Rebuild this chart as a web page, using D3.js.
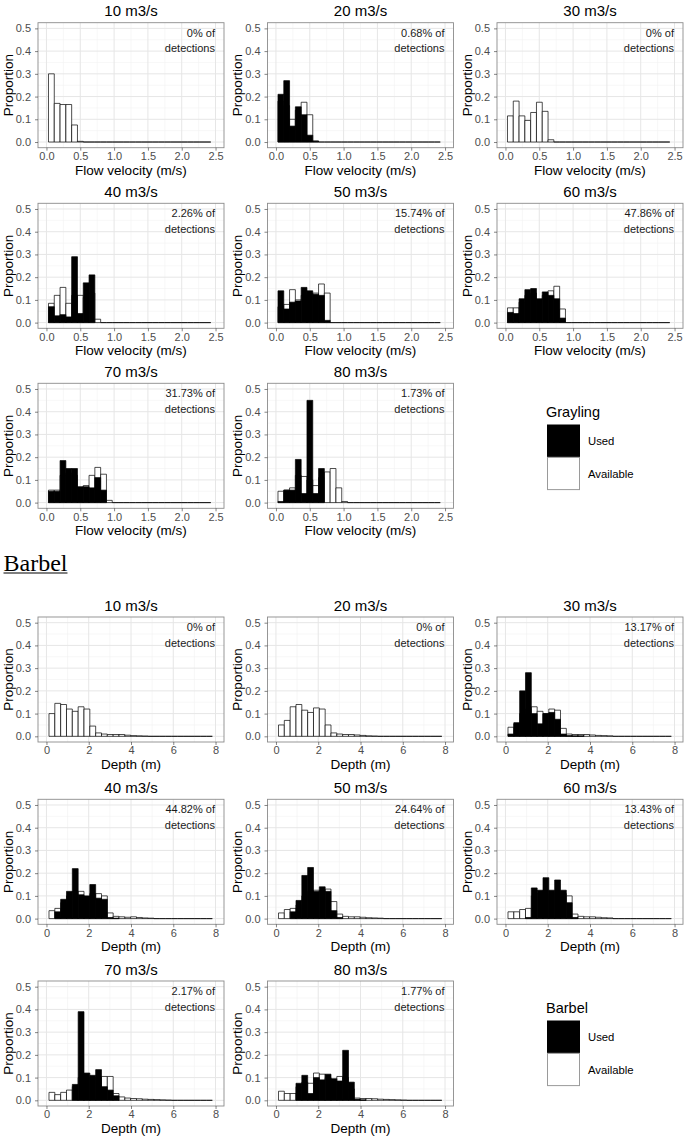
<!DOCTYPE html>
<html><head><meta charset="utf-8">
<script src="https://cdn.jsdelivr.net/npm/d3@7"></script>
<style>
body{margin:0;background:#fff}
svg{display:block}
</style>
</head><body>
<svg id="c" width="685" height="1137"></svg>
<script>
// ---------------- data ----------------
const flowLabels = ["10 m3/s","20 m3/s","30 m3/s","40 m3/s","50 m3/s","60 m3/s","70 m3/s","80 m3/s"];
const graylingPct = ["0%","0.68%","0%","2.26%","15.74%","47.86%","31.73%","1.73%"];
const barbelPct = ["0%","0%","13.17%","44.82%","24.64%","13.43%","2.17%","1.77%"];
const velocityTicks = [0,0.5,1,1.5,2,2.5];
const depthTicks = [0,2,4,6,8];
const proportionTicks = [0,0.1,0.2,0.3,0.4,0.5];
const legendLabels = ["Used","Available"];
const nBins = 28;
const velocityBinStart = 0.03, velocityBinWidth = 0.0857;
const depthBinStart = 0.12, depthBinWidth = 0.276;

// Grayling: proportion per flow-velocity bin
const graylingUsed = [
  [0,0,0,0,0],
  [0.21,0.27,0.07,0.155,0.12,0.03,0.003],
  [0,0,0,0,0],
  [0.07,0.03,0.035,0.025,0.29,0.04,0.175,0.21,0],
  [0.14,0.06,0.09,0.095,0.155,0.14,0.125,0.12,0.01],
  [0.045,0.04,0.105,0.145,0.15,0.105,0.135,0.12,0.105,0.02],
  [0.05,0.05,0.185,0.15,0.15,0.07,0.07,0.065,0.11,0.055,0],
  [0.005,0.055,0.055,0.19,0.04,0.45,0.04,0.15]
];
const graylingAvail = [
  [0.30,0.17,0.165,0.165,0.075,0.003],
  [0.18,0.16,0.10,0.14,0.175,0.12,0.005],
  [0.115,0.18,0.115,0.095,0.13,0.175,0.135,0.01],
  [0.085,0.12,0.155,0.085,0.12,0.12,0.11,0.13,0.015],
  [0.07,0.08,0.145,0.10,0.12,0.13,0.13,0.17,0.13],
  [0.065,0.065,0.09,0.12,0.13,0.10,0.12,0.14,0.16,0.06],
  [0.055,0.055,0.12,0.13,0.12,0.065,0.075,0.12,0.155,0.125,0.01],
  [0.05,0.055,0.065,0.12,0.115,0.10,0.075,0.11,0.135,0.15,0.065,0.005]
];
// Barbel: proportion per depth bin
const barbelUsed = [
  [0,0,0,0,0],
  [0,0,0,0,0],
  [0.01,0.06,0.2,0.28,0.1,0.055,0.1,0.105,0.075,0.01,0.003,0.002,0.002],
  [0,0.03,0.085,0.12,0.22,0.105,0.1,0.15,0.09,0.085,0.005,0.002],
  [0,0,0.03,0.08,0.19,0.225,0.12,0.14,0.12,0.035,0.005],
  [0,0,0,0.005,0.135,0.125,0.18,0.125,0.17,0.125,0.07,0.005],
  [0,0,0,0,0.07,0.39,0.12,0.11,0.135,0.06,0.045,0.02],
  [0,0,0,0.075,0.11,0.03,0.1,0.09,0.115,0.095,0.085,0.22,0.08,0.005,0.002]
];
const barbelAvail = [
  [0.1,0.145,0.14,0.12,0.11,0.13,0.12,0.045,0.015,0.01,0.008,0.008,0.008,0.005,0.003,0.002,0.001],
  [0.05,0.07,0.13,0.14,0.115,0.105,0.125,0.12,0.05,0.015,0.01,0.008,0.008,0.006,0.004,0.002,0.001],
  [0.04,0.055,0.1,0.12,0.13,0.11,0.1,0.12,0.115,0.035,0.01,0.008,0.008,0.008,0.006,0.004,0.003,0.002],
  [0.035,0.045,0.07,0.1,0.12,0.12,0.095,0.11,0.11,0.1,0.025,0.01,0.008,0.006,0.008,0.005,0.003,0.002],
  [0.025,0.04,0.045,0.06,0.1,0.12,0.125,0.12,0.13,0.075,0.02,0.01,0.008,0.008,0.006,0.004,0.003,0.002],
  [0.03,0.03,0.04,0.045,0.1,0.11,0.12,0.11,0.12,0.11,0.1,0.02,0.01,0.008,0.008,0.006,0.004,0.003],
  [0.035,0.025,0.035,0.045,0.06,0.1,0.1,0.1,0.1,0.105,0.105,0.03,0.015,0.01,0.008,0.007,0.005,0.004,0.003,0.002,0.001],
  [0.04,0.03,0.03,0.06,0.08,0.075,0.12,0.115,0.1,0.09,0.105,0.1,0.05,0.01,0.008,0.008,0.007,0.005,0.004,0.003,0.002,0.001]
];

// ---------------- layout ----------------
const svg = d3.select("#c");
const W = 186, H = 125;
const colLefts = [38, 267.5, 497];
const graylingTops = [22.7, 203.3, 383.3];
const barbelTops = [617, 799.3, 981];
const FONT = '"Liberation Sans",Arial,Helvetica,sans-serif';
const SERIF = '"Liberation Serif","Times New Roman",Times,serif';

function txt(sel) { return sel.style("font-family", FONT); }

function panel(left, top, cfg) {
  const g = svg.append("g").attr("transform", `translate(${left},${top})`);
  const x = d3.scaleLinear().domain(cfg.xDomain).range([0, W]);
  const y = d3.scaleLinear().domain([-0.025, 0.525]).range([H, 0]);
  const minorY = d3.pairs(proportionTicks).map(([a,b]) => (a+b)/2);
  const minorX = d3.pairs(cfg.xTicks).map(([a,b]) => (a+b)/2);

  g.append("rect").attr("width", W).attr("height", H).attr("fill", "#fff");
  // minor grid
  g.selectAll(".gmy").data(minorY).join("line").attr("class","gmy")
    .attr("x1",0).attr("x2",W).attr("y1",d=>y(d)).attr("y2",d=>y(d))
    .attr("stroke","#f2f2f2").attr("stroke-width",0.6);
  g.selectAll(".gmx").data(minorX).join("line").attr("class","gmx")
    .attr("y1",0).attr("y2",H).attr("x1",d=>x(d)).attr("x2",d=>x(d))
    .attr("stroke","#f2f2f2").attr("stroke-width",0.6);
  // major grid
  g.selectAll(".gy").data(proportionTicks).join("line").attr("class","gy")
    .attr("x1",0).attr("x2",W).attr("y1",d=>y(d)).attr("y2",d=>y(d))
    .attr("stroke","#e6e6e6").attr("stroke-width",1);
  g.selectAll(".gx").data(cfg.xTicks).join("line").attr("class","gx")
    .attr("y1",0).attr("y2",H).attr("x1",d=>x(d)).attr("x2",d=>x(d))
    .attr("stroke","#e6e6e6").attr("stroke-width",1);

  // bars
  const bins = d3.range(nBins).map(i => ({
    x0: cfg.binStart + i*cfg.binWidth,
    x1: cfg.binStart + (i+1)*cfg.binWidth,
    a: cfg.avail[i] || 0,
    u: cfg.used[i] || 0
  }));
  const barPath = (d, v) => `M${x(d.x0)},${y(0)}V${y(v)}H${x(d.x1)}V${y(0)}Z`;
  g.selectAll(".avail").data(bins).join("path").attr("class","avail")
    .attr("d", d => barPath(d, d.a))
    .attr("fill","#fff").attr("stroke","#000").attr("stroke-width",0.7);
  g.selectAll(".used").data(bins.filter(d => d.u > 0)).join("path").attr("class","used")
    .attr("d", d => barPath(d, d.u))
    .attr("fill","#000").attr("stroke","#000").attr("stroke-width",0.7);

  // border
  g.append("rect").attr("width", W).attr("height", H)
    .attr("fill","none").attr("stroke","#8c8c8c").attr("stroke-width",0.9);

  // axes
  const ya = g.append("g").call(d3.axisLeft(y).tickValues(proportionTicks)
      .tickFormat(d3.format(".1f")).tickSize(3).tickPadding(4));
  const xa = g.append("g").attr("transform", `translate(0,${H})`)
    .call(d3.axisBottom(x).tickValues(cfg.xTicks).tickFormat(cfg.xFmt).tickSize(3).tickPadding(1.5));
  [ya, xa].forEach(a => {
    a.select(".domain").remove();
    a.attr("font-family", FONT).attr("font-size", 11);
    a.selectAll("line").attr("stroke","#333").attr("stroke-width",0.6);
    a.selectAll("text").attr("fill","#4d4d4d");
  });

  // titles
  txt(g.append("text")).attr("x", W/2).attr("y", -6.5).attr("text-anchor","middle")
    .attr("font-size", 15).attr("fill","#000").text(cfg.title);
  txt(g.append("text")).attr("x", W/2).attr("y", H + 27).attr("text-anchor","middle")
    .attr("font-size", 13.5).attr("fill","#000").text(cfg.xTitle);
  txt(g.append("text")).attr("transform", `translate(-25.5,${H/2}) rotate(-90)`)
    .attr("text-anchor","middle").attr("font-size", 13.5).attr("fill","#000").text("Proportion");

  // annotation
  txt(g.append("text")).attr("x", W - 9).attr("y", 14).attr("text-anchor","end")
    .attr("font-size", 11).attr("fill","#1a1a1a").text(cfg.pct + " of");
  txt(g.append("text")).attr("x", W - 9).attr("y", 29.5).attr("text-anchor","end")
    .attr("font-size", 11).attr("fill","#1a1a1a").text("detections");
}

function legend(boxTop, title) {
  const g = svg.append("g");
  txt(g.append("text")).attr("x", 546).attr("y", boxTop - 8.5).attr("font-size", 14.5)
    .attr("fill","#000").text(title);
  const fills = ["#000", "#fff"];
  const strokes = ["#000", "#9a9a9a"];
  legendLabels.forEach((lab, i) => {
    g.append("rect").attr("x", 547.5).attr("y", boxTop + i*32.3)
      .attr("width", 32).attr("height", 32.3)
      .attr("fill", fills[i]).attr("stroke", strokes[i]).attr("stroke-width", 1);
    txt(g.append("text")).attr("x", 588).attr("y", boxTop + 19.7 + i*33.3)
      .attr("font-size", 11.3).attr("fill","#000").text(lab);
  });
}

// Grayling panels
flowLabels.forEach((lab, k) => {
  const r = Math.floor(k/3), c = k % 3;
  panel(colLefts[c], graylingTops[r], {
    xDomain: [-0.125, 2.625], xTicks: velocityTicks, xFmt: d3.format(".1f"),
    binStart: velocityBinStart, binWidth: velocityBinWidth,
    used: graylingUsed[k], avail: graylingAvail[k],
    title: lab, xTitle: "Flow velocity (m/s)", pct: graylingPct[k]
  });
});
legend(425, "Grayling");

// Barbel heading
const hd = svg.append("text").attr("x", 3.5).attr("y", 570.5)
  .style("font-family", SERIF)
  .attr("font-size", 24).attr("fill","#000").text("Barbel");
const hw = hd.node().getComputedTextLength();
svg.append("line").attr("x1", 3.5).attr("x2", 3.5 + hw).attr("y1", 573).attr("y2", 573)
  .attr("stroke","#000").attr("stroke-width", 1.2);

// Barbel panels
flowLabels.forEach((lab, k) => {
  const r = Math.floor(k/3), c = k % 3;
  panel(colLefts[c], barbelTops[r], {
    xDomain: [-0.4, 8.4], xTicks: depthTicks, xFmt: d3.format("d"),
    binStart: depthBinStart, binWidth: depthBinWidth,
    used: barbelUsed[k], avail: barbelAvail[k],
    title: lab, xTitle: "Depth (m)", pct: barbelPct[k]
  });
});
legend(1021, "Barbel");
</script>
</body></html>
